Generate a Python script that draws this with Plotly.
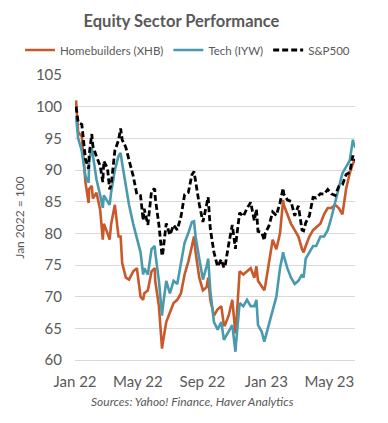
import plotly.graph_objects as go

dates = [
    "2022-01-03", "2022-01-07", "2022-01-14", "2022-01-21", "2022-01-27", "2022-01-28",
    "2022-02-02", "2022-02-04", "2022-02-11", "2022-02-18", "2022-02-23", "2022-02-25",
    "2022-03-04", "2022-03-08", "2022-03-11", "2022-03-18", "2022-03-25", "2022-03-29",
    "2022-04-01", "2022-04-08", "2022-04-14", "2022-04-22", "2022-04-29",
    "2022-05-06", "2022-05-11", "2022-05-13", "2022-05-20", "2022-05-27",
    "2022-06-02", "2022-06-03", "2022-06-10", "2022-06-16", "2022-06-17", "2022-06-24",
    "2022-07-01", "2022-07-08", "2022-07-15", "2022-07-22", "2022-07-29",
    "2022-08-05", "2022-08-12", "2022-08-16", "2022-08-19", "2022-08-26",
    "2022-09-02", "2022-09-09", "2022-09-12", "2022-09-16", "2022-09-23", "2022-09-30",
    "2022-10-07", "2022-10-12", "2022-10-14", "2022-10-21", "2022-10-28",
    "2022-11-03", "2022-11-04", "2022-11-11", "2022-11-18", "2022-11-25",
    "2022-12-02", "2022-12-09", "2022-12-13", "2022-12-16", "2022-12-23", "2022-12-28", "2022-12-30",
    "2023-01-06", "2023-01-13", "2023-01-20", "2023-01-27",
    "2023-02-02", "2023-02-03", "2023-02-10", "2023-02-17", "2023-02-24",
    "2023-03-03", "2023-03-10", "2023-03-13", "2023-03-17", "2023-03-24", "2023-03-31",
    "2023-04-06", "2023-04-14", "2023-04-21", "2023-04-28",
    "2023-05-05", "2023-05-12", "2023-05-19", "2023-05-26",
    "2023-06-02", "2023-06-09", "2023-06-15", "2023-06-16", "2023-06-20",
]

homebuilders_xhb = [
    101.0, 96.0, 95.3, 88.0, 84.8, 87.0,
    87.5, 85.5, 86.4, 83.7, 79.0, 81.5,
    80.0, 79.0, 81.5, 84.5, 79.5, 79.5,
    75.3, 73.0, 72.7, 74.0, 74.5,
    70.0, 69.5, 70.5, 71.0, 74.0,
    74.5, 72.5, 68.5, 61.8, 62.5, 66.0,
    67.5, 69.0, 69.5, 70.5, 73.5,
    75.5, 78.0, 79.5, 77.0, 73.0,
    71.0, 71.5, 73.0, 69.5, 67.0, 68.0,
    68.5, 65.5, 65.5, 67.0, 69.5,
    64.2, 65.0, 74.0, 73.5, 74.0,
    74.5, 73.0, 74.8, 72.5, 71.5, 71.0, 71.8,
    75.5, 79.0, 77.5, 80.0,
    85.3, 84.5, 83.0, 81.5, 80.5,
    79.5, 77.5, 77.0, 78.0, 79.5, 80.5,
    81.0, 81.5, 83.0, 84.0,
    84.0, 84.5, 84.0, 83.0,
    87.0, 89.5, 91.0, 91.2, 91.5,
]

tech_iyw = [
    98.5, 95.0, 93.0, 89.0, 88.0, 91.5,
    93.5, 92.5, 88.5, 86.0, 84.0, 86.0,
    85.0, 84.5, 86.5, 90.0, 92.2, 92.7,
    91.0, 87.5, 84.5, 81.5, 79.0,
    77.0, 73.5, 74.5, 73.5, 77.5,
    78.0, 77.0, 72.5, 67.0, 68.0, 72.5,
    70.5, 72.5, 72.0, 75.0, 78.5,
    80.0, 81.8, 81.9, 79.5, 76.0,
    72.7, 74.8, 76.0, 71.0, 66.0, 64.8,
    66.0, 63.2, 63.5, 64.5, 65.5,
    61.3, 62.5, 69.0, 68.5, 69.5,
    68.5, 68.5, 69.5, 65.5, 64.5, 62.9, 63.5,
    65.5, 68.0, 70.0, 74.5,
    77.0, 76.5, 74.5, 73.0, 72.0,
    72.5, 73.5, 73.0, 76.0, 77.0, 78.0,
    78.0, 79.5, 79.5, 80.5,
    82.5, 85.0, 87.0, 89.5,
    90.5, 91.5, 94.8, 94.3, 93.5,
]

sp500 = [
    100.0, 97.51, 97.21, 91.69, 90.20, 92.40,
    95.68, 93.83, 92.12, 90.67, 88.09, 91.41,
    90.25, 86.95, 87.65, 93.05, 94.71, 96.56,
    94.77, 93.57, 91.58, 89.06, 86.14,
    85.96, 82.04, 83.89, 81.34, 86.69,
    87.08, 85.66, 81.33, 76.45, 76.61, 81.55,
    79.75, 81.30, 80.54, 82.59, 86.11,
    86.42, 89.23, 89.76, 88.16, 84.59,
    81.81, 84.80, 85.70, 80.75, 77.00, 74.75,
    75.88, 74.57, 74.70, 78.24, 81.33,
    77.55, 78.61, 83.25, 82.67, 83.94,
    84.89, 82.02, 83.80, 80.31, 80.16, 78.87, 80.05,
    81.21, 83.37, 82.82, 84.86,
    87.14, 86.24, 85.28, 85.04, 82.77,
    84.34, 80.51, 80.39, 81.66, 82.79, 85.67,
    85.58, 86.26, 86.18, 86.93,
    86.23, 85.98, 87.39, 87.68,
    89.28, 89.62, 92.27, 91.93, 91.50,
]

y_ticks = [60, 65, 70, 75, 80, 85, 90, 95, 100, 105]

GRAY = "#595959"
FONT = "Lato"

# plot area in pixels
PL, PR, PT, PB = 67, 347, 67, 352
PW, PH = PR - PL, PB - PT

fig = go.Figure()
fig.add_trace(go.Scatter(x=dates, y=homebuilders_xhb, mode="lines",
                         name="Homebuilders (XHB)",
                         line=dict(color="#C9582A", width=2.6)))
fig.add_trace(go.Scatter(x=dates, y=tech_iyw, mode="lines",
                         name="Tech (IYW)",
                         line=dict(color="#4A9AAE", width=2.6)))
fig.add_trace(go.Scatter(x=dates, y=sp500, mode="lines",
                         name="S&P500",
                         line=dict(color="#000000", width=2.8, dash="6px,3px")))

fig.update_layout(
    width=388, height=423,
    margin=dict(l=PL, r=388 - PR, t=PT, b=423 - PB),
    paper_bgcolor="white", plot_bgcolor="white",
    font=dict(family=FONT, color=GRAY),
    title=dict(text="<b>Equity Sector Performance</b>",
               font=dict(size=16.5, color=GRAY, family=FONT),
               x=173.5 / 388, xanchor="center", xref="container",
               y=1 - 13 / 423, yanchor="middle", yref="container"),
    legend=dict(orientation="h", xref="paper", yref="paper",
                x=(12 - PL) / PW, xanchor="left",
                y=(PB - 42) / PH, yanchor="middle",
                font=dict(size=11.5, color=GRAY, family=FONT),
                itemwidth=30, tracegroupgap=0, bgcolor="rgba(0,0,0,0)"),
    showlegend=True,
    xaxis=dict(type="date", range=["2022-01-01", "2023-06-19"],
               tickformat="%b %y", dtick="M4", tick0="2022-01-01",
               showgrid=False, zeroline=False, showline=True,
               linecolor="#d9d9d9", linewidth=1, ticks="",
               tickfont=dict(size=15, color=GRAY, family=FONT),
               ticklabelstandoff=8),
    yaxis=dict(range=[60, 105], tickvals=y_ticks, showgrid=True,
               gridcolor="#d9d9d9", gridwidth=1, zeroline=False,
               showline=False, ticks="",
               tickfont=dict(size=15, color=GRAY, family=FONT),
               ticklabelstandoff=12,
               title=dict(text="Jan 2022 = 100", standoff=8,
                          font=dict(size=12, color=GRAY, family=FONT))),
)

fig.add_annotation(text="<i>Sources: Yahoo! Finance, Haver Analytics</i>",
                   xref="paper", yref="paper",
                   x=(184 - PL) / PW, y=-(393 - PB) / PH,
                   xanchor="center", yanchor="middle", showarrow=False,
                   font=dict(size=12, color=GRAY, family=FONT))

fig.write_html("out.html")
